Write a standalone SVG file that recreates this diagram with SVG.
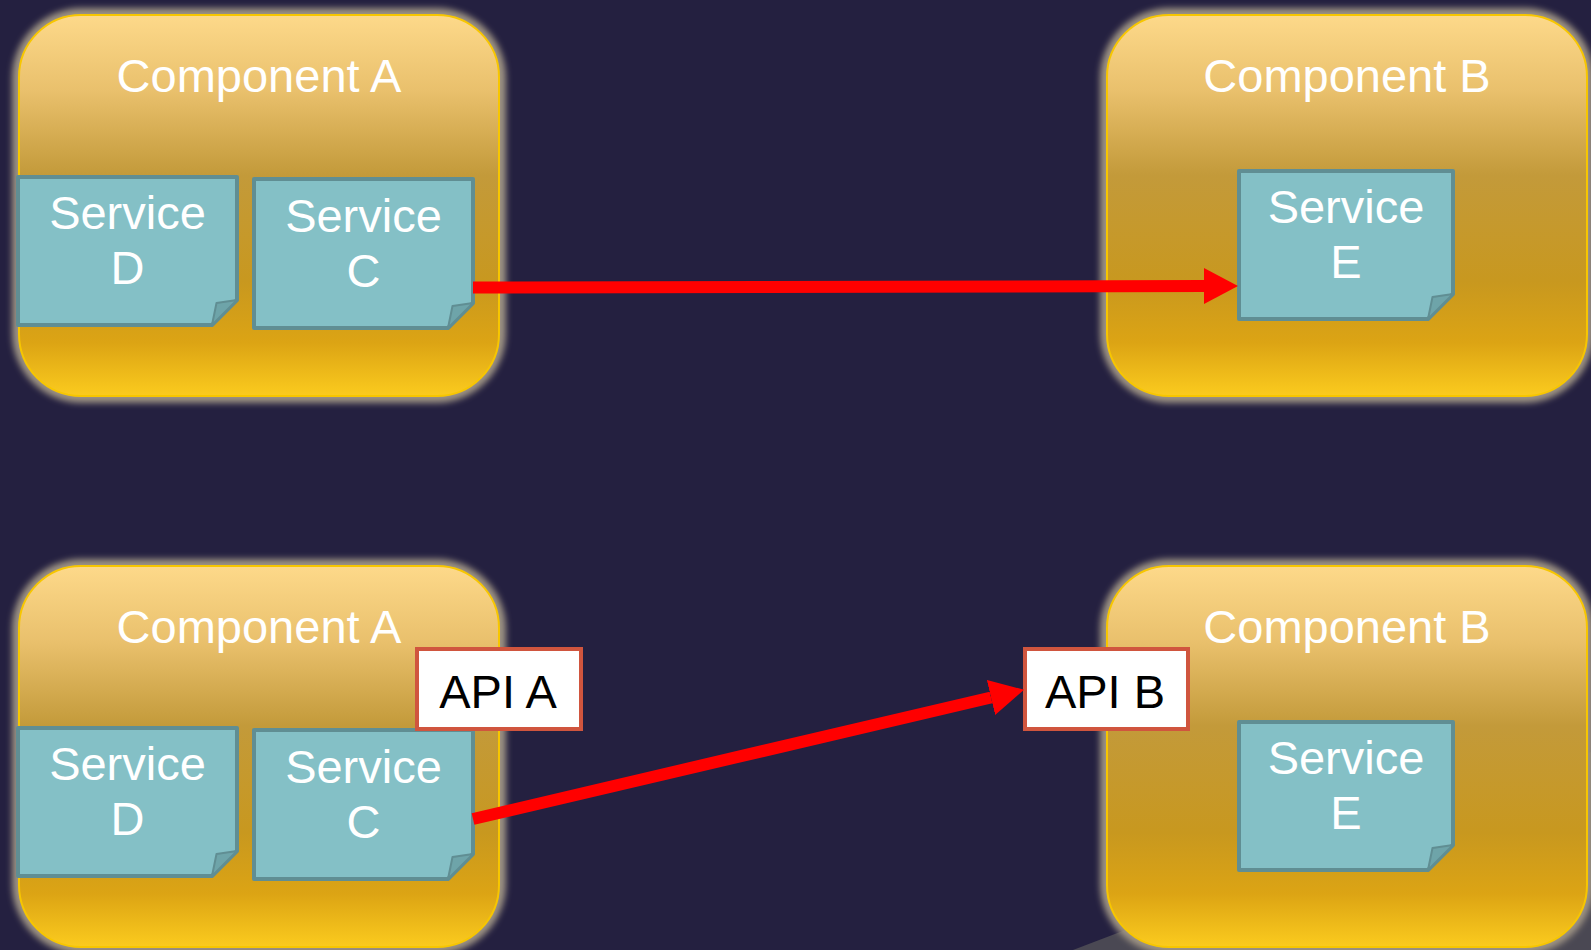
<svg xmlns="http://www.w3.org/2000/svg" width="1591" height="950" viewBox="0 0 1591 950">
  <defs>
    <linearGradient id="compFill" x1="0" y1="0" x2="0" y2="1">
      <stop offset="0" stop-color="#fdd98a"/>
      <stop offset="0.2" stop-color="#e9c06c"/>
      <stop offset="0.42" stop-color="#c39a3a"/>
      <stop offset="0.7" stop-color="#c8981f"/>
      <stop offset="0.86" stop-color="#dca414"/>
      <stop offset="1" stop-color="#fbcb1e"/>
    </linearGradient>
    <filter id="halo" x="-10%" y="-10%" width="120%" height="120%">
      <feGaussianBlur stdDeviation="3"/>
    </filter>
    <marker id="arrowHead" markerUnits="userSpaceOnUse" markerWidth="36" markerHeight="38" refX="0" refY="18" orient="auto" viewBox="0 0 36 36">
      <path d="M0,0 L34,18 L0,36 Z" fill="#ff0000"/>
    </marker>
  </defs>
  <style>
    .glow { fill: #9d9383; filter: url(#halo); }
    .comp { fill: url(#compFill); stroke: #f7c600; stroke-width: 2; }
    .title { font-family: "Liberation Sans", Arial, sans-serif; font-size: 47px; fill: #ffffff; text-anchor: middle; }
    .note { fill: #84c0c6; stroke: #608e93; stroke-width: 4; stroke-linejoin: round; }
    .flap { fill: #6ea4a9; stroke: #608e93; stroke-width: 2; stroke-linejoin: round; }
    .svc { font-family: "Liberation Sans", Arial, sans-serif; font-size: 47px; fill: #ffffff; text-anchor: middle; }
    .api { fill: #ffffff; stroke: #d0553e; stroke-width: 4; }
    .apiText { font-family: "Liberation Sans", Arial, sans-serif; font-size: 47px; fill: #000000; text-anchor: middle; }
    .link { stroke: #ff0000; stroke-width: 12; fill: none; marker-end: url(#arrowHead); }
  </style>

  <!-- backdrop -->
  <rect x="0" y="0" width="1591" height="950" fill="#242040"/>
  <polygon points="1073,950 1591,752 1591,950" fill="#4a4853"/>

  <!-- ===== upper scene: direct service call ===== -->
  <g id="componentA-top">
    <rect class="glow" x="12" y="8" width="494" height="395" rx="70"/>
    <rect class="comp" x="19" y="15" width="480" height="381" rx="62"/>
    <text class="title" x="259" y="92">Component A</text>
  </g>
  <g id="serviceD-top">
    <path class="note" d="M18,177 H237 V300 L212,325 H18 Z"/>
    <path class="flap" d="M212,325 L216.5,303 L237,300 Z"/>
    <text class="svc" x="127.5" y="229">Service</text>
    <text class="svc" x="127.5" y="284">D</text>
  </g>
  <g id="serviceC-top">
    <path class="note" d="M254,179 H473 V303 L448,328 H254 Z"/>
    <path class="flap" d="M448,328 L452.5,306 L473,303 Z"/>
    <text class="svc" x="363.5" y="232">Service</text>
    <text class="svc" x="363.5" y="287">C</text>
  </g>
  <g id="componentB-top">
    <rect class="glow" x="1100" y="8" width="494" height="395" rx="70"/>
    <rect class="comp" x="1107" y="15" width="480" height="381" rx="62"/>
    <text class="title" x="1347" y="92">Component B</text>
  </g>
  <g id="serviceE-top">
    <path class="note" d="M1239,171 H1453 V294 L1428,319 H1239 Z"/>
    <path class="flap" d="M1428,319 L1432.5,297 L1453,294 Z"/>
    <text class="svc" x="1346" y="223">Service</text>
    <text class="svc" x="1346" y="278">E</text>
  </g>

  <!-- ===== lower scene: calls through APIs ===== -->
  <g id="componentA-bottom">
    <rect class="glow" x="12" y="559" width="494" height="395" rx="70"/>
    <rect class="comp" x="19" y="566" width="480" height="381" rx="62"/>
    <text class="title" x="259" y="643">Component A</text>
  </g>
  <g id="serviceD-bottom">
    <path class="note" d="M18,728 H237 V851 L212,876 H18 Z"/>
    <path class="flap" d="M212,876 L216.5,854 L237,851 Z"/>
    <text class="svc" x="127.5" y="780">Service</text>
    <text class="svc" x="127.5" y="835">D</text>
  </g>
  <g id="serviceC-bottom">
    <path class="note" d="M254,730 H473 V854 L448,879 H254 Z"/>
    <path class="flap" d="M448,879 L452.5,857 L473,854 Z"/>
    <text class="svc" x="363.5" y="783">Service</text>
    <text class="svc" x="363.5" y="838">C</text>
  </g>
  <g id="apiA">
    <rect class="api" x="417" y="649" width="164" height="80"/>
    <text class="apiText" x="498" y="708">API A</text>
  </g>
  <g id="componentB-bottom">
    <rect class="glow" x="1100" y="559" width="494" height="395" rx="70"/>
    <rect class="comp" x="1107" y="566" width="480" height="381" rx="62"/>
    <text class="title" x="1347" y="643">Component B</text>
  </g>
  <g id="serviceE-bottom">
    <path class="note" d="M1239,722 H1453 V845 L1428,870 H1239 Z"/>
    <path class="flap" d="M1428,870 L1432.5,848 L1453,845 Z"/>
    <text class="svc" x="1346" y="774">Service</text>
    <text class="svc" x="1346" y="829">E</text>
  </g>
  <g id="apiB">
    <rect class="api" x="1025" y="649" width="163" height="80"/>
    <text class="apiText" x="1105" y="708">API B</text>
  </g>

  <!-- connectors -->
  <g id="connectors">
    <line class="link" x1="473" y1="287.5" x2="1204" y2="286"/>
    <line class="link" x1="473" y1="819" x2="991" y2="697.5"/>
  </g>
</svg>
